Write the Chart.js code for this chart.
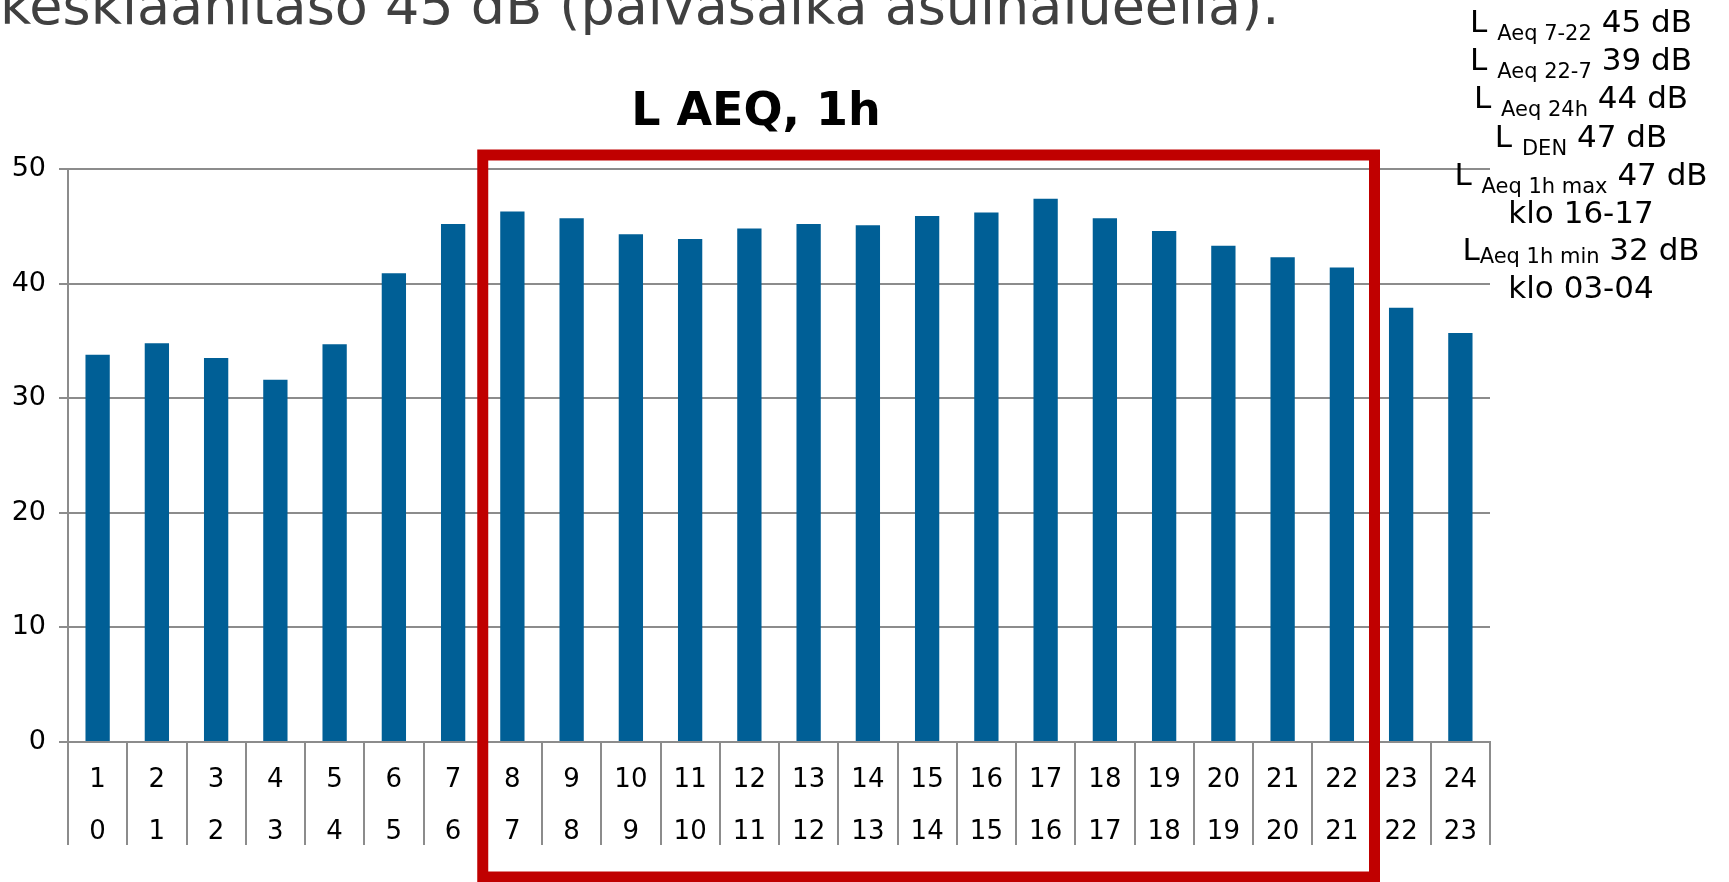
<!DOCTYPE html>
<html>
<head>
<meta charset="utf-8">
<script src="https://cdn.jsdelivr.net/npm/chart.js@4/dist/chart.umd.min.js"></script>
<style>
  html, body { margin: 0; padding: 0; background: #ffffff; }
  #wrap { width: 1729px; height: 882px; position: relative; }
  canvas { display: block; }
</style>
</head>
<body>
<div id="wrap"><canvas id="chart" width="1729" height="882"></canvas></div>
<script>
// Hourly equivalent sound level, one bar per hour of the day
const hourLabels  = ['1','2','3','4','5','6','7','8','9','10','11','12','13','14','15','16','17','18','19','20','21','22','23','24'];
const startHours  = ['0','1','2','3','4','5','6','7','8','9','10','11','12','13','14','15','16','17','18','19','20','21','22','23'];
const laeq1h      = [33.8, 34.8, 33.5, 31.6, 34.7, 40.9, 45.2, 46.3, 45.7, 44.3, 43.9, 44.8, 45.2, 45.1, 45.9, 46.2, 47.4, 45.7, 44.6, 43.3, 42.3, 41.4, 37.9, 35.7];
const yTickValues = [0, 10, 20, 30, 40, 50];

// Daytime hours 7-22 (categories "8" .. "22") are framed in red
const dayFirstLabel = '8';
const dayLastLabel  = '22';

const chartTitle = 'L AEQ, 1h';
const headerText = 'keskiäänitaso 45 dB (päiväsaika asuinalueella).';

// Summary block: [main, subscript, main] pieces per row
const summaryRows = [
  ['L ', 'Aeq 7-22', ' 45 dB'],
  ['L ', 'Aeq 22-7', ' 39 dB'],
  ['L ', 'Aeq 24h', ' 44 dB'],
  ['L ', 'DEN', ' 47 dB'],
  ['L ', 'Aeq 1h max', ' 47 dB'],
  ['klo 16-17', '', ''],
  ['L', 'Aeq 1h min', ' 32 dB'],
  ['klo 03-04', '', '']
];

const FONT = "'DejaVu Sans', Verdana, sans-serif";
const GRID = '#8c8c8c';

const overlay = {
  id: 'overlay',
  afterDraw(chart) {
    const ctx = chart.ctx;
    const xs = chart.scales.x;
    ctx.save();

    // header line running off the top edge
    ctx.fillStyle = '#404040';
    ctx.font = '54px ' + FONT;
    ctx.textAlign = 'left';
    ctx.textBaseline = 'alphabetic';
    ctx.fillText(headerText, 0, 24);

    // chart title
    ctx.fillStyle = '#000000';
    ctx.font = 'bold 46px ' + FONT;
    ctx.textAlign = 'center';
    ctx.fillText(chartTitle, 756, 125);

    // daytime frame, aligned to category boundaries
    const half = xs.width / xs.ticks.length / 2;
    const i0 = hourLabels.indexOf(dayFirstLabel);
    const i1 = hourLabels.indexOf(dayLastLabel);
    const left = xs.getPixelForValue(i0) - half;
    const right = xs.getPixelForValue(i1) + half + 3;
    ctx.strokeStyle = '#c00000';
    ctx.lineWidth = 11;
    ctx.lineJoin = 'miter';
    ctx.strokeRect(left, 155, right - left, 722);

    // summary block at the right
    const cx = 1581;
    const baselines = [32, 70, 108, 147, 185, 223, 260, 298];
    const subDrop = [8, 8, 8, 8, 8, 0, 3, 0];
    ctx.textAlign = 'left';
    summaryRows.forEach((row, r) => {
      const mainFont = '31px ' + FONT;
      const subFont = '21px ' + FONT;
      ctx.font = mainFont;
      const w0 = ctx.measureText(row[0]).width;
      const w2 = ctx.measureText(row[2]).width;
      ctx.font = subFont;
      const w1 = ctx.measureText(row[1]).width;
      let x = cx - (w0 + w1 + w2) / 2;
      const y = baselines[r];
      ctx.fillStyle = '#000000';
      ctx.font = mainFont;
      ctx.fillText(row[0], x, y);
      x += w0;
      ctx.font = subFont;
      ctx.fillText(row[1], x, y + subDrop[r]);
      x += w1;
      ctx.font = mainFont;
      ctx.fillText(row[2], x, y);
    });

    ctx.restore();
  }
};

new Chart(document.getElementById('chart'), {
  type: 'bar',
  data: {
    labels: hourLabels.map((h, i) => [h, startHours[i]]),
    datasets: [{
      data: laeq1h,
      backgroundColor: '#005f96',
      borderWidth: 0,
      barPercentage: 0.41,
      categoryPercentage: 1.0
    }]
  },
  options: {
    responsive: false,
    animation: false,
    devicePixelRatio: 1,
    layout: { padding: { left: 0, top: 169, right: 239, bottom: 0 } },
    plugins: { legend: { display: false }, tooltip: { enabled: false }, title: { display: false } },
    scales: {
      x: {
        type: 'category',
        offset: true,
        grid: {
          offset: true,
          drawOnChartArea: false,
          drawTicks: true,
          tickLength: 103,
          color: GRID,
          lineWidth: 2
        },
        border: { display: true, color: GRID, width: 2 },
        ticks: {
          autoSkip: false,
          maxRotation: 0,
          minRotation: 0,
          padding: -91,
          color: '#000000',
          font: { family: FONT, size: 26, lineHeight: 2 }
        },
        afterFit(scale) { scale.height = 140; }
      },
      y: {
        min: 0,
        max: 50,
        afterBuildTicks(scale) { scale.ticks = yTickValues.map(v => ({ value: v })); },
        grid: { color: GRID, lineWidth: 2, tickLength: 9, drawTicks: true },
        border: { display: true, color: GRID, width: 2 },
        ticks: {
          padding: 13,
          color: '#000000',
          font: { family: FONT, size: 27 }
        },
        afterFit(scale) { scale.width = 68; }
      }
    }
  },
  plugins: [overlay]
});
</script>
</body>
</html>
